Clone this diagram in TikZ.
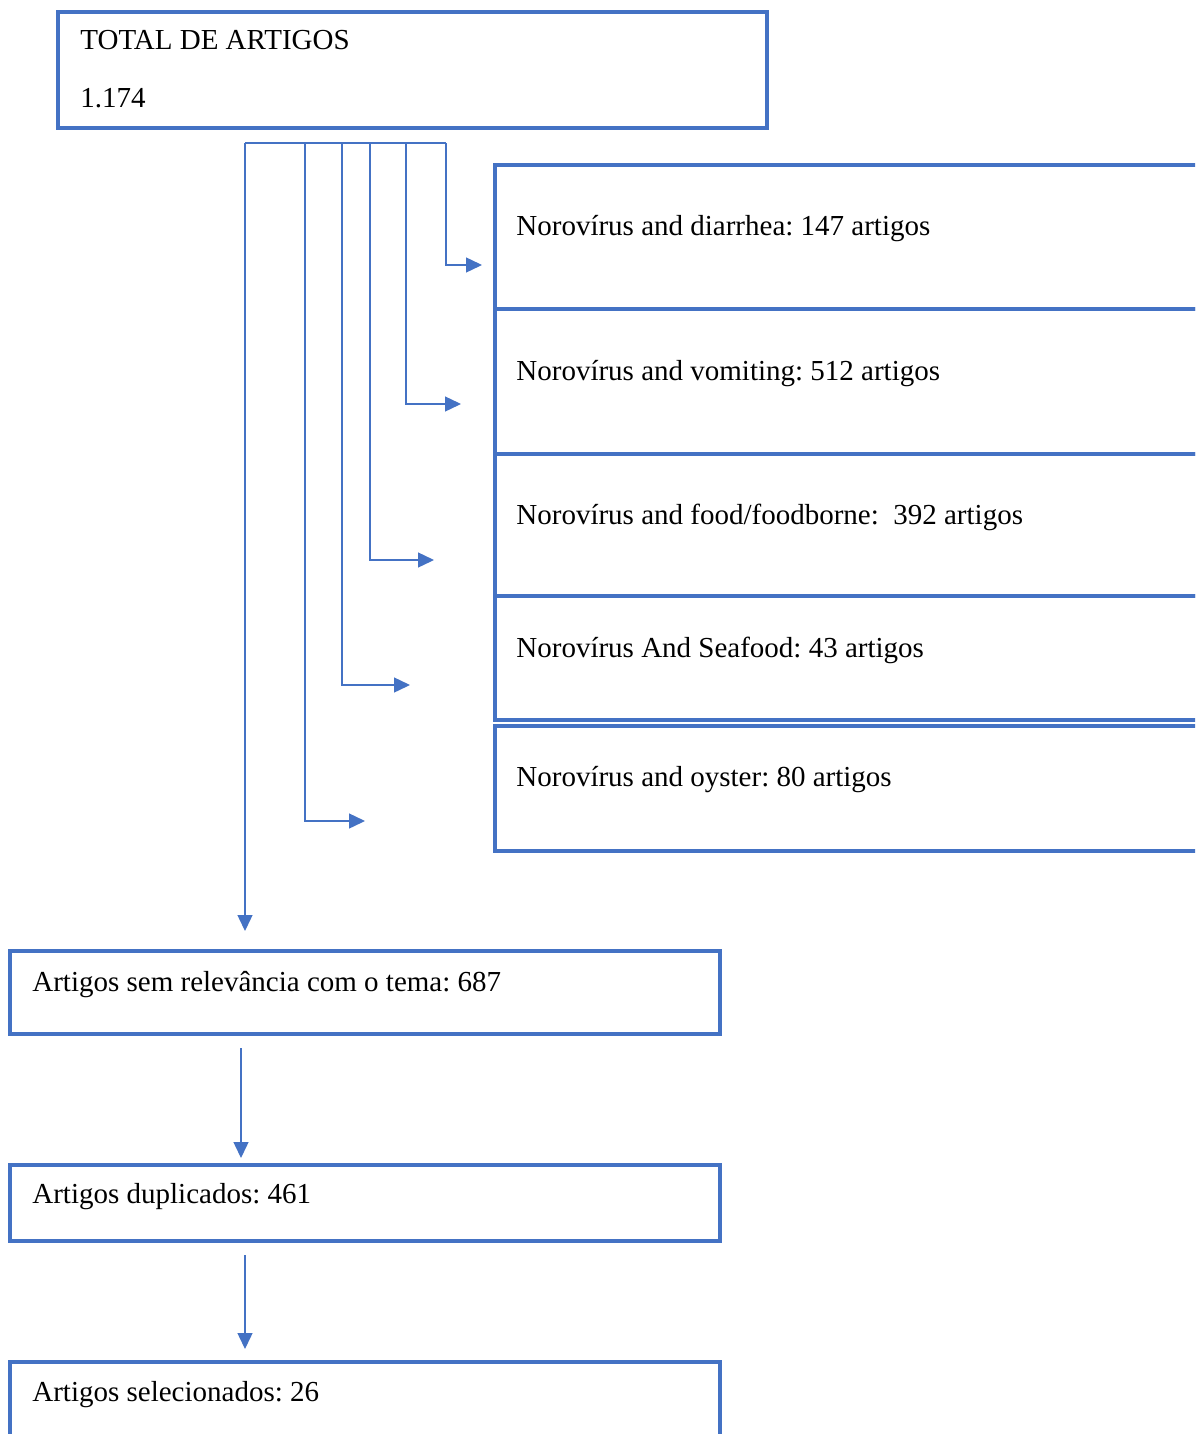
\documentclass[tikz,border=0pt]{standalone}
\usepackage{fontspec}
\setmainfont{Liberation Serif}
\usetikzlibrary{arrows.meta}
\definecolor{wblue}{HTML}{4472C4}
\frenchspacing
\begin{document}
\begin{tikzpicture}[x=0.5pt,y=-0.5pt,
  box/.style={draw=wblue,line width=1.6pt,inner sep=0pt},
  lbl/.style={anchor=base west,inner sep=0pt,font=\fontsize{14.5pt}{17pt}\selectfont},
  conn/.style={draw=wblue,line width=0.7pt},
  arr/.style={conn,-{Triangle[length=8pt,width=7.5pt]}}]
\useasboundingbox (0,0) rectangle (1195,1434);
\clip (0,0) rectangle (1195,1434);
% boxes
\path[box] (58,12) rectangle (767,128);
\node[lbl] (ttot) at (80,50) {TOTAL DE ARTIGOS};
\node[lbl] (tnum) at (80,108) {1.174};
\path[box] (495,165) rectangle (1210,309);
\path[box] (495,309) rectangle (1210,454);
\path[box] (495,454) rectangle (1210,596);
\path[box] (495,596) rectangle (1210,720);
\path[box] (495,726) rectangle (1210,851);
\node[lbl] (b1) at (516,235) {Norovírus and diarrhea: 147 artigos};
\node[lbl] (b2) at (516,380) {Norovírus and vomiting: 512 artigos};
\node[lbl] (b3) at (516,524) {Norovírus and food/foodborne:\ \ 392 artigos};
\node[lbl] (b4) at (516,657) {Norovírus And Seafood: 43 artigos};
\node[lbl] (b5) at (516,786) {Norovírus and oyster: 80 artigos};
\path[box] (10,951) rectangle (720,1034);
\node[lbl] (s1) at (32,991) {Artigos sem relevância com o tema: 687};
\path[box] (10,1165) rectangle (720,1241);
\node[lbl] (s2) at (32,1203) {Artigos duplicados: 461};
\path[box] (10,1362) rectangle (720,1450);
\node[lbl] (s3) at (32,1401) {Artigos selecionados: 26};
% connectors
\coordinate (h0) at (245,143);
\coordinate (h5) at (446,143);
\coordinate (e1) at (482,265);
\coordinate (e2) at (461,404);
\coordinate (e3) at (434,560);
\coordinate (e4) at (410,685);
\coordinate (e5) at (365,821);
\coordinate (e0) at (245,931);
\path[conn] (h0) -- (h5);
\draw[arr] (h5) |- (e1);
\draw[arr] (406,143) |- (e2);
\draw[arr] (370,143) |- (e3);
\draw[arr] (342,143) |- (e4);
\draw[arr] (305,143) |- (e5);
\draw[arr] (h0) -- (e0);
\coordinate (a1) at (241,1048);
\coordinate (a2) at (241,1158);
\coordinate (a3) at (245,1255);
\coordinate (a4) at (245,1349);
\draw[arr] (a1) -- (a2);
\draw[arr] (a3) -- (a4);
\end{tikzpicture}
\end{document}
